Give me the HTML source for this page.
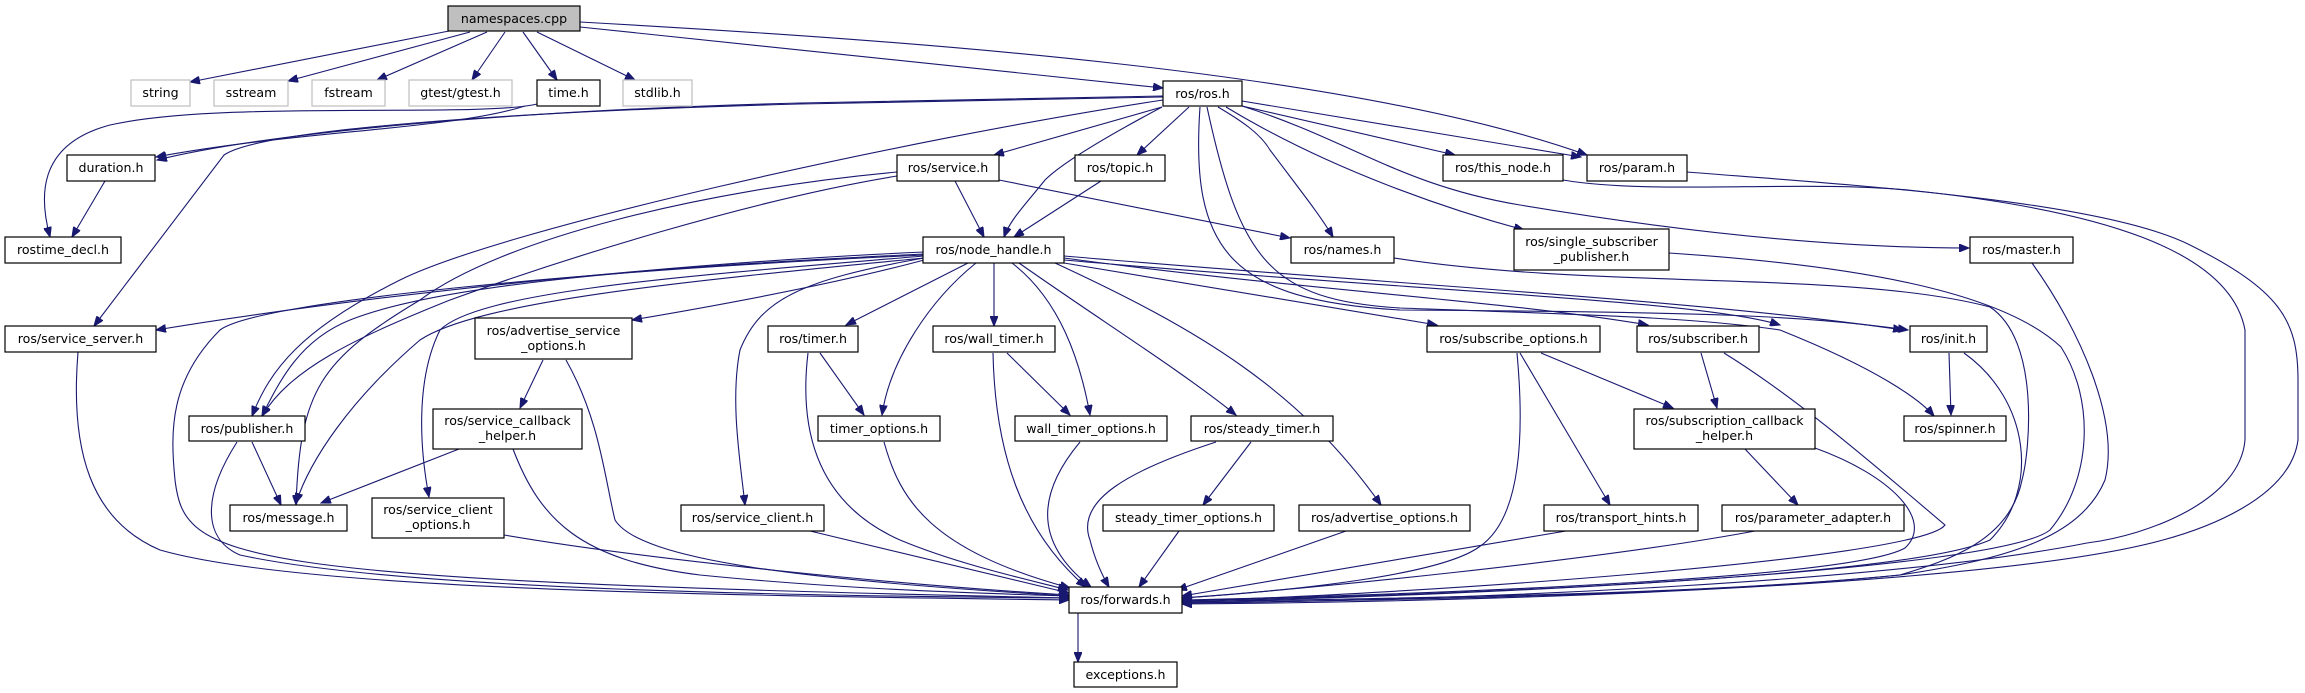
<!DOCTYPE html>
<html><head><meta charset="utf-8"><style>
html,body{margin:0;padding:0;background:#fff;}
svg{display:block;}
text{font-family:"DejaVu Sans","Liberation Sans",sans-serif;font-size:12.6px;fill:#000;text-anchor:middle;}
.n{fill:#fff;stroke:#000;stroke-width:1.2;}
.g{fill:#fff;stroke:#bfbfbf;stroke-width:1.2;}
.e{fill:none;stroke:#191970;stroke-width:1.1;}
</style></head><body>
<svg width="2305" height="693" viewBox="0 0 2305 693" xmlns="http://www.w3.org/2000/svg">
<defs><marker id="a" markerUnits="userSpaceOnUse" markerWidth="11" markerHeight="8" refX="10" refY="4" orient="auto"><path d="M0,0 L10,4 L0,8 z" fill="#191970" stroke="#191970"/></marker></defs>
<g marker-end="url(#a)">
<!-- namespaces.cpp -->
<path class="e" d="M449,31 L190,82"/>
<path class="e" d="M470,32 L288,81"/>
<path class="e" d="M487,32 L377,80"/>
<path class="e" d="M505,32 L472,80"/>
<path class="e" d="M523,32 L557,80"/>
<path class="e" d="M537,32 L635,80"/>
<path class="e" d="M580,27 L1163,88"/>
<path class="e" d="M580,22 C 900,40 1350,70 1587,155"/>
<!-- time.h -->
<path class="e" d="M537,104 C 480,118 220,100 110,125 C 35,145 40,200 50,237"/>
<path class="e" d="M525,106 C 450,130 300,130 156,157"/>
<path class="e" d="M105,181 L72,237"/>
<!-- ros.h -->
<path class="e" d="M1163,96 L800,103 C 600,108 300,125 157,160"/>
<path class="e" d="M1163,97 L800,104 C 500,112 260,130 224,155 L94,326"/>
<path class="e" d="M1162,107 L994,155"/>
<path class="e" d="M1189,107 L1137,155"/>
<path class="e" d="M1162,107 C 1100,140 1060,165 1045,180 C 1025,205 1010,220 1004,237"/>
<path class="e" d="M1218,107 C 1240,120 1260,133 1270,150 C 1300,190 1320,215 1333,237"/>
<path class="e" d="M1242,106 L1455,155"/>
<path class="e" d="M1242,101 L1581,157"/>
<path class="e" d="M1226,107 C 1330,170 1450,210 1524,230"/>
<path class="e" d="M1242,106 C 1350,140 1400,185 1520,205 C 1700,235 1850,248 1969,248"/>
<path class="e" d="M1200,107 C 1190,250 1230,300 1400,310 C 1700,312 1800,315 1908,330"/>
<path class="e" d="M1207,107 C 1240,260 1270,300 1400,308 C 1600,315 1700,318 1780,330 C 1880,370 1920,400 1934,416"/>
<path class="e" d="M1163,100 C 900,140 500,230 400,280 C 300,330 270,370 252,416"/>
<!-- service.h / topic.h -->
<path class="e" d="M955,181 L984,237"/>
<path class="e" d="M999,180 L1290,238"/>
<path class="e" d="M1101,181 L1014,237"/>
<path class="e" d="M897,172 C 700,190 500,240 420,300 C 320,360 300,390 296,505"/>
<path class="e" d="M897,176 C 750,200 560,260 450,300 C 350,340 290,370 262,416"/>
<!-- node_handle.h -->
<path class="e" d="M924,252 C 700,262 400,290 156,330"/>
<path class="e" d="M968,263 L846,325"/>
<path class="e" d="M994,263 L994,326"/>
<path class="e" d="M976,263 C 930,300 890,360 882,415"/>
<path class="e" d="M1012,263 C 1060,300 1080,360 1090,415"/>
<path class="e" d="M1019,263 C 1100,320 1180,370 1236,415"/>
<path class="e" d="M1055,263 C 1200,330 1300,390 1381,505"/>
<path class="e" d="M1064,263 L1437,325"/>
<path class="e" d="M1064,258 C 1300,290 1500,300 1648,325"/>
<path class="e" d="M1064,256 C 1400,285 1700,300 1903,330"/>
<path class="e" d="M1064,260 C 1400,290 1700,300 1780,325"/>
<path class="e" d="M924,258 C 800,280 760,300 740,350 C 730,400 740,460 745,505"/>
<path class="e" d="M924,256 C 700,275 480,290 440,330 C 415,380 420,450 429,497"/>
<path class="e" d="M924,260 C 850,280 750,300 632,320"/>
<path class="e" d="M924,258 C 700,280 480,300 420,340 C 350,400 310,460 296,503"/>
<path class="e" d="M924,254 C 700,265 450,280 350,320 C 300,340 280,380 262,416"/>
<path class="e" d="M924,255 C 600,270 260,300 220,330 C 170,380 170,430 175,480 C 185,560 220,580 1069,598"/>
<!-- level 3+ -->
<path class="e" d="M543,360 L520,408"/>
<path class="e" d="M459,449 L321,503"/>
<path class="e" d="M252,442 L281,505"/>
<path class="e" d="M820,353 L864,415"/>
<path class="e" d="M1007,353 L1070,415"/>
<path class="e" d="M1251,442 L1203,505"/>
<path class="e" d="M1701,353 L1717,408"/>
<path class="e" d="M1541,353 L1673,408"/>
<path class="e" d="M1520,353 L1610,505"/>
<path class="e" d="M1745,449 L1798,505"/>
<path class="e" d="M1949,353 L1951,415"/>
<path class="e" d="M1078,613 L1078,662"/>
<!-- into forwards.h -->
<path class="e" d="M78,352 C 70,450 90,520 160,550 C 300,590 700,595 1069,600"/>
<path class="e" d="M237,442 C 200,500 205,540 240,555 C 400,590 800,596 1069,598"/>
<path class="e" d="M566,360 C 600,420 605,480 615,520 C 640,560 800,580 1069,596"/>
<path class="e" d="M513,449 C 540,520 580,560 700,575 C 850,590 1000,594 1069,596"/>
<path class="e" d="M504,535 C 650,560 900,585 1069,595"/>
<path class="e" d="M810,531 L1069,593"/>
<path class="e" d="M808,353 C 800,420 810,500 900,540 C 960,565 1030,580 1068,590"/>
<path class="e" d="M884,442 C 900,500 930,550 1070,588"/>
<path class="e" d="M993,353 C 995,450 1020,530 1086,587"/>
<path class="e" d="M1080,442 C 1040,490 1030,540 1091,587"/>
<path class="e" d="M1216,442 C 1130,470 1075,500 1090,540 C 1095,560 1102,575 1109,587"/>
<path class="e" d="M1179,531 L1139,587"/>
<path class="e" d="M1346,531 L1177,590"/>
<path class="e" d="M1517,353 C 1525,440 1520,520 1479,547 C 1440,575 1300,590 1182,598"/>
<path class="e" d="M1566,531 L1182,596"/>
<path class="e" d="M1755,531 C 1600,560 1300,590 1182,598"/>
<path class="e" d="M1815,448 C 1890,475 1935,520 1905,548 C 1850,580 1400,595 1182,600"/>
<path class="e" d="M1724,353 C 1800,400 1880,470 1945,525 C 1920,560 1400,595 1182,601"/>
<path class="e" d="M1964,353 C 2030,400 2040,490 1990,540 C 1900,580 1400,596 1182,601"/>
<path class="e" d="M1394,258 C 1600,290 1850,270 1990,307 C 2040,340 2030,450 2022,480 C 2010,540 1950,560 1900,575 C 1700,595 1400,598 1182,602"/>
<path class="e" d="M1669,253 C 1850,265 2000,290 2061,347 C 2095,400 2092,480 2050,530 C 2000,570 1500,595 1182,602"/>
<path class="e" d="M2032,263 C 2080,330 2120,420 2105,480 C 2080,540 2000,560 1900,575 C 1700,595 1400,600 1182,603"/>
<path class="e" d="M1563,180 C 1650,195 1800,180 1908,190 C 2100,210 2230,250 2245,330 L2245,440 C 2240,500 2150,535 2087,543 C 1900,580 1500,600 1182,603"/>
<path class="e" d="M1687,172 C 1850,185 2100,200 2190,245 C 2280,290 2298,320 2298,380 L2298,440 C 2290,500 2200,530 2163,540 C 2000,585 1500,602 1182,604"/>
</g>
<!-- nodes -->
<rect x="448" y="6" width="132" height="25" fill="#bfbfbf" stroke="#000" stroke-width="1.2"/><text x="514" y="23">namespaces.cpp</text>
<rect class="g" x="131" y="80" width="59" height="26"/><text x="160.5" y="97">string</text>
<rect class="g" x="214" y="80" width="74" height="26"/><text x="251" y="97">sstream</text>
<rect class="g" x="312" y="80" width="73" height="26"/><text x="348.5" y="97">fstream</text>
<rect class="g" x="409" y="80" width="103" height="26"/><text x="460.5" y="97">gtest/gtest.h</text>
<rect class="n" x="537" y="80" width="63" height="26"/><text x="568.5" y="97">time.h</text>
<rect class="g" x="623" y="80" width="69" height="26"/><text x="657.5" y="97">stdlib.h</text>
<rect class="n" x="1163" y="81" width="79" height="25"/><text x="1202.5" y="98">ros/ros.h</text>
<rect class="n" x="67" y="155" width="88" height="26"/><text x="111" y="172">duration.h</text>
<rect class="n" x="5" y="237" width="116" height="26"/><text x="63" y="254">rostime_decl.h</text>
<rect class="n" x="897" y="155" width="102" height="26"/><text x="948" y="172">ros/service.h</text>
<rect class="n" x="1075" y="155" width="90" height="26"/><text x="1120" y="172">ros/topic.h</text>
<rect class="n" x="1443" y="155" width="120" height="26"/><text x="1503" y="172">ros/this_node.h</text>
<rect class="n" x="1587" y="155" width="100" height="26"/><text x="1637" y="172">ros/param.h</text>
<rect class="n" x="923" y="237" width="141" height="26"/><text x="993.5" y="254">ros/node_handle.h</text>
<rect class="n" x="1291" y="237" width="103" height="26"/><text x="1342.5" y="254">ros/names.h</text>
<rect class="n" x="1514" y="229" width="155" height="41"/><text x="1591.5" y="246">ros/single_subscriber</text><text x="1591.5" y="261">_publisher.h</text>
<rect class="n" x="1970" y="237" width="103" height="26"/><text x="2021.5" y="254">ros/master.h</text>
<rect class="n" x="5" y="326" width="151" height="26"/><text x="80.5" y="343">ros/service_server.h</text>
<rect class="n" x="475" y="318" width="157" height="41"/><text x="553.5" y="335">ros/advertise_service</text><text x="553.5" y="350">_options.h</text>
<rect class="n" x="768" y="326" width="90" height="26"/><text x="813" y="343">ros/timer.h</text>
<rect class="n" x="933" y="326" width="122" height="26"/><text x="994" y="343">ros/wall_timer.h</text>
<rect class="n" x="1427" y="326" width="173" height="26"/><text x="1513.5" y="343">ros/subscribe_options.h</text>
<rect class="n" x="1637" y="326" width="122" height="26"/><text x="1698" y="343">ros/subscriber.h</text>
<rect class="n" x="1910" y="326" width="77" height="26"/><text x="1948.5" y="343">ros/init.h</text>
<rect class="n" x="189" y="416" width="116" height="25"/><text x="247" y="433">ros/publisher.h</text>
<rect class="n" x="433" y="409" width="149" height="40"/><text x="507.5" y="425">ros/service_callback</text><text x="507.5" y="440">_helper.h</text>
<rect class="n" x="818" y="416" width="122" height="25"/><text x="879" y="433">timer_options.h</text>
<rect class="n" x="1015" y="416" width="152" height="25"/><text x="1091" y="433">wall_timer_options.h</text>
<rect class="n" x="1191" y="416" width="142" height="25"/><text x="1262" y="433">ros/steady_timer.h</text>
<rect class="n" x="1634" y="409" width="181" height="40"/><text x="1724.5" y="425">ros/subscription_callback</text><text x="1724.5" y="440">_helper.h</text>
<rect class="n" x="1904" y="416" width="102" height="25"/><text x="1955" y="433">ros/spinner.h</text>
<rect class="n" x="230" y="505" width="117" height="26"/><text x="288.5" y="522">ros/message.h</text>
<rect class="n" x="372" y="498" width="132" height="40"/><text x="438" y="514">ros/service_client</text><text x="438" y="529">_options.h</text>
<rect class="n" x="681" y="505" width="143" height="26"/><text x="752.5" y="522">ros/service_client.h</text>
<rect class="n" x="1103" y="505" width="171" height="26"/><text x="1188.5" y="522">steady_timer_options.h</text>
<rect class="n" x="1299" y="505" width="171" height="26"/><text x="1384.5" y="522">ros/advertise_options.h</text>
<rect class="n" x="1544" y="505" width="154" height="26"/><text x="1621" y="522">ros/transport_hints.h</text>
<rect class="n" x="1722" y="505" width="182" height="26"/><text x="1813" y="522">ros/parameter_adapter.h</text>
<rect class="n" x="1069" y="587" width="113" height="26"/><text x="1125.5" y="604">ros/forwards.h</text>
<rect class="n" x="1074" y="662" width="103" height="25"/><text x="1125.5" y="679">exceptions.h</text>
</svg>
</body></html>
